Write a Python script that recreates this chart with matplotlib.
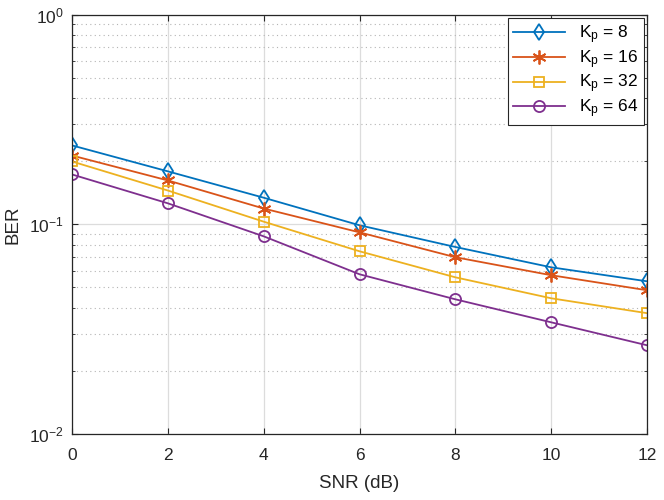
"""
BER vs SNR for several pilot counts K_p
"""

import matplotlib
matplotlib.use("Agg")
import matplotlib.pyplot as plt
from matplotlib.ticker import LogLocator, NullFormatter

plt.rcParams['font.family'] = ['Liberation Sans', 'DejaVu Sans']
plt.rcParams['mathtext.fontset'] = 'custom'
plt.rcParams['mathtext.rm'] = 'Liberation Sans'
plt.rcParams['mathtext.it'] = 'Liberation Sans'

#data
snr = [0, 2, 4, 6, 8, 10, 12]
ber_k8 = [0.238, 0.179, 0.134, 0.099, 0.078, 0.0624, 0.0535]
ber_k16 = [0.213, 0.162, 0.119, 0.0916, 0.0697, 0.0572, 0.0485]
ber_k32 = [0.1995, 0.145, 0.103, 0.0744, 0.0559, 0.0444, 0.0377]
ber_k64 = [0.173, 0.126, 0.0877, 0.0578, 0.0439, 0.0341, 0.0265]
labels = ["8", "16", "32", "64"]

axcol = '#262626'

fig = plt.figure(figsize=(6.64, 5.0), dpi=100)
ax = fig.add_axes([72/664, 1-434/500, (647-72)/664, (434-14.7)/500])

ax.semilogy(snr, ber_k8, '-d', color='#0072BD', mfc='none', ms=8, mew=1.3, lw=1.3)
ax.semilogy(snr, ber_k16, '-', marker=(6, 2, 0), color='#D95319', ms=10, mew=1.3, lw=1.3)
ax.semilogy(snr, ber_k32, '-s', color='#EDB120', mfc='none', ms=7, mew=1.3, lw=1.3)
ax.semilogy(snr, ber_k64, '-o', color='#7E2F8E', mfc='none', ms=8, mew=1.3, lw=1.3)

ax.set_xlim(0, 12)
ax.set_ylim(1e-2, 1e0)
ax.set_xticks(snr)
ax.yaxis.set_major_locator(LogLocator(base=10, numticks=10))
ax.yaxis.set_minor_locator(LogLocator(base=10, subs=range(2, 10), numticks=20))
ax.yaxis.set_minor_formatter(NullFormatter())

ax.grid(True, which='major', color='#DCDCDC', lw=0.9, ls='-')
ax.grid(True, which='minor', axis='y', color='#B4B4B4', lw=0.8, ls=(0, (1, 3)))
ax.set_axisbelow(True)

ax.tick_params(which='both', direction='in', top=True, right=True,
               colors=axcol, labelsize=12.5)
ax.tick_params(which='major', length=4)
ax.tick_params(which='minor', length=2.5)
ax.tick_params(axis='x', which='major', pad=10)
ax.tick_params(axis='y', which='major', pad=6)
for s in ax.spines.values():
    s.set_color(axcol)
    s.set_linewidth(0.9)

ax.set_xlabel("SNR (dB)", fontsize=13.5, color=axcol, labelpad=9)
ax.set_ylabel("BER", fontsize=13.5, color=axcol, labelpad=5)

leg = ax.legend([r"K$_{\rm p}$ = " + l for l in labels], loc='upper right',
                fontsize=12.5, fancybox=False, framealpha=1, borderaxespad=0.2,
                handlelength=3.0, labelspacing=0.12, borderpad=0.3)
leg.get_frame().set_edgecolor(axcol)
leg.get_frame().set_linewidth(0.8)

fig.savefig("out.png", dpi=100)
